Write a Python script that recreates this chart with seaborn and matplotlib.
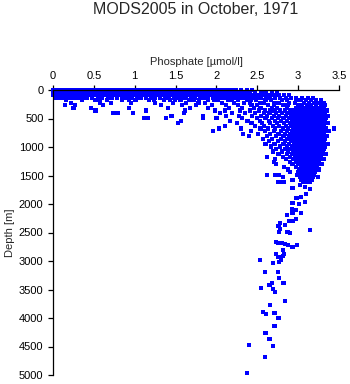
import numpy as np
import pandas as pd
import matplotlib
matplotlib.use("Agg")
import matplotlib.pyplot as plt
import seaborn as sns

# Phosphate (umol/l) readings grouped by sampling depth (m)
upper_depths = [0, 45, 90, 135, 180, 225, 270, 315]
upper_phosphate = [
    [0.00, 0.03, 0.07, 0.10, 0.14, 0.17, 0.21, 0.24, 0.28, 0.31, 0.35, 0.38, 0.42, 0.45, 0.49, 0.52,
     0.56, 0.59, 0.63, 0.66, 0.70, 0.73, 0.77, 0.80, 0.84, 0.87, 0.91, 0.94, 0.98, 1.01, 1.05, 1.08,
     1.12, 1.15, 1.19, 1.22, 1.26, 1.29, 1.33, 1.36, 1.40, 1.43, 1.47, 1.50, 1.54, 1.57, 1.61, 1.64,
     1.68, 1.71, 1.75, 1.78, 1.82, 1.85, 1.89, 1.92, 1.96, 1.99, 2.03, 2.06, 2.10, 2.13, 2.17, 2.20,
     2.24, 2.30, 2.37, 2.44],
    [0.00, 0.04, 0.07, 0.11, 0.14, 0.18, 0.22, 0.25, 0.29, 0.32, 0.36, 0.40, 0.43, 0.47, 0.50, 0.54,
     0.58, 0.61, 0.65, 0.68, 0.72, 0.76, 0.79, 0.83, 0.86, 0.90, 0.94, 0.97, 1.01, 1.04, 1.08, 1.12,
     1.15, 1.19, 1.22, 1.26, 1.30, 1.33, 1.37, 1.40, 1.44, 1.48, 1.51, 1.55, 1.58, 1.62, 1.66, 1.69,
     1.73, 1.76, 1.80, 1.84, 1.87, 1.91, 1.94, 1.98, 2.02, 2.05, 2.09, 2.12, 2.16, 2.20, 2.23, 2.27,
     2.31, 2.36, 2.41, 2.47, 2.55, 2.60, 2.68, 2.74],
    [0.00, 0.03, 0.06, 0.10, 0.13, 0.16, 0.20, 0.23, 0.27, 0.30, 0.34, 0.37, 0.41, 0.45, 0.48, 0.52,
     0.55, 0.59, 0.62, 0.66, 0.70, 0.73, 0.77, 0.80, 0.84, 0.87, 0.91, 0.95, 0.98, 1.02, 1.05, 1.09,
     1.13, 1.16, 1.20, 1.23, 1.27, 1.31, 1.34, 1.38, 1.41, 1.45, 1.49, 1.52, 1.56, 1.60, 1.63, 1.67,
     1.70, 1.74, 1.78, 1.81, 1.85, 1.89, 1.92, 1.96, 1.99, 2.03, 2.07, 2.10, 2.14, 2.18, 2.21, 2.25,
     2.29, 2.32, 2.36, 2.40, 2.44, 2.48, 2.52, 2.57, 2.62, 2.67, 2.72, 2.77, 2.83, 2.89],
    [0.02, 0.08, 0.13, 0.19, 0.25, 0.31, 0.36, 0.42, 0.48, 0.55, 0.60, 0.67, 0.72, 0.78, 0.85, 0.90,
     0.96, 1.03, 1.08, 1.14, 1.20, 1.25, 1.31, 1.37, 1.42, 1.48, 1.53, 1.58, 1.63, 1.69, 1.74, 1.80,
     1.85, 1.90, 1.96, 2.01, 2.06, 2.11, 2.17, 2.22, 2.27, 2.33, 2.38, 2.43, 2.49, 2.55, 2.61, 2.66,
     2.72, 2.78, 2.85, 2.91, 2.97, 3.05, 3.12, 3.18],
    [0.16, 0.35, 0.52, 0.58, 0.66, 0.84, 0.93, 1.01, 1.17, 1.24, 1.36, 1.43, 1.49, 1.56, 1.67, 1.72,
     1.79, 1.90, 1.97, 2.02, 2.14, 2.19, 2.26, 2.37, 2.42, 2.48, 2.60, 2.67, 2.80, 2.86, 2.98, 3.04,
     3.10, 3.16, 3.22, 3.28],
    [0.22, 0.58, 0.71, 0.95, 1.25, 1.47, 1.63, 1.78, 1.86, 2.07, 2.21, 2.34, 2.41, 2.53, 2.58, 2.71,
     2.77, 2.89, 2.96, 3.07, 3.13, 3.19, 3.25, 3.31],
    [0.15, 0.27, 0.61, 1.32, 1.58, 1.75, 1.95, 2.12, 2.26, 2.43, 2.50, 2.63, 2.70, 2.82, 2.88, 3.00,
     3.05, 3.11, 3.16, 3.22, 3.28, 3.33],
    [0.25, 0.46, 0.93, 1.41, 1.68, 1.90, 2.15, 2.31, 2.46, 2.54, 2.68, 2.74, 2.86, 2.97, 3.02, 3.07,
     3.12, 3.17, 3.22, 3.27, 3.32],
]

core_depths = [360, 405, 450, 495, 540, 585, 630, 675, 720, 765, 810, 855, 900, 945, 990,
               1035, 1080, 1125, 1170, 1215, 1260, 1305, 1350, 1395, 1440, 1485, 1530, 1575, 1610]
core_phosphate = [
    [0.52, 1.14, 1.62, 1.98, 2.10, 2.29, 2.41, 2.52, 2.59, 2.66, 2.71, 2.78, 2.84, 2.90, 2.95, 2.99,
     3.03, 3.07, 3.11, 3.15, 3.19, 3.23, 3.27, 3.31, 3.35],
    [0.74, 0.80, 0.98, 1.60, 2.04, 2.19, 2.35, 2.47, 2.58, 2.65, 2.73, 2.80, 2.87, 2.93, 2.97, 3.01,
     3.05, 3.09, 3.13, 3.17, 3.21, 3.25, 3.29, 3.33],
    [1.45, 1.84, 2.12, 2.28, 2.44, 2.55, 2.62, 2.70, 2.77, 2.85, 2.91, 2.96, 3.00, 3.04, 3.08, 3.12,
     3.16, 3.20, 3.24, 3.28, 3.32, 3.37],
    [1.11, 1.16, 1.38, 1.84, 2.00, 2.31, 2.50, 2.60, 2.68, 2.75, 2.82, 2.89, 2.94, 2.98, 3.02, 3.06,
     3.10, 3.14, 3.18, 3.22, 3.26, 3.30, 3.34],
    [1.57, 2.17, 2.38, 2.53, 2.64, 2.72, 2.79, 2.86, 2.92, 2.97, 3.01, 3.05, 3.09, 3.13, 3.17, 3.21,
     3.25, 3.29, 3.33],
    [1.53, 2.25, 2.43, 2.56, 2.66, 2.74, 2.83, 2.90, 2.95, 2.99, 3.03, 3.07, 3.11, 3.15, 3.19, 3.23,
     3.27, 3.31, 3.36],
    [2.10, 2.47, 2.58, 2.69, 2.77, 2.85, 2.91, 2.96, 3.00, 3.04, 3.08, 3.12, 3.16, 3.20, 3.24, 3.28,
     3.32],
    [2.03, 2.30, 2.54, 2.63, 2.72, 2.81, 2.88, 2.94, 2.98, 3.02, 3.06, 3.10, 3.14, 3.18, 3.22, 3.26,
     3.30, 3.34, 3.44],
    [1.96, 2.42, 2.59, 2.70, 2.79, 2.86, 2.93, 2.97, 3.01, 3.05, 3.09, 3.13, 3.17, 3.21, 3.25, 3.29,
     3.33, 3.38],
    [2.33, 2.51, 2.66, 2.76, 2.84, 2.90, 2.95, 2.99, 3.03, 3.07, 3.11, 3.15, 3.19, 3.23, 3.27, 3.31],
    [2.40, 2.62, 2.73, 2.82, 2.89, 2.94, 2.98, 3.02, 3.06, 3.10, 3.14, 3.18, 3.22, 3.26, 3.30, 3.35],
    [2.57, 2.68, 2.79, 2.87, 2.93, 2.97, 3.01, 3.05, 3.09, 3.13, 3.17, 3.21, 3.25, 3.29, 3.33],
    [2.64, 2.75, 2.84, 2.91, 2.96, 3.00, 3.04, 3.08, 3.12, 3.16, 3.20, 3.24, 3.28, 3.32],
    [2.60, 2.71, 2.82, 2.89, 2.95, 2.99, 3.03, 3.07, 3.11, 3.15, 3.19, 3.23, 3.27, 3.31, 3.36],
    [2.67, 2.78, 2.86, 2.92, 2.97, 3.01, 3.05, 3.09, 3.13, 3.17, 3.21, 3.25, 3.29, 3.33],
    [2.73, 2.84, 2.91, 2.96, 3.00, 3.04, 3.08, 3.12, 3.16, 3.20, 3.24, 3.28, 3.32],
    [2.69, 2.80, 2.88, 2.94, 2.98, 3.02, 3.06, 3.10, 3.14, 3.18, 3.22, 3.26, 3.30],
    [2.76, 2.86, 2.93, 2.97, 3.01, 3.05, 3.09, 3.13, 3.17, 3.21, 3.25, 3.29, 3.34],
    [2.62, 2.81, 2.90, 2.96, 3.00, 3.04, 3.08, 3.12, 3.16, 3.20, 3.24, 3.28],
    [2.72, 2.85, 2.94, 2.99, 3.03, 3.07, 3.11, 3.15, 3.19, 3.23, 3.27, 3.31],
    [2.70, 2.90, 2.98, 3.02, 3.06, 3.10, 3.14, 3.18, 3.22, 3.26],
    [2.73, 2.93, 3.00, 3.04, 3.08, 3.12, 3.16, 3.20, 3.24, 3.29],
    [2.83, 2.97, 3.03, 3.07, 3.11, 3.15, 3.19, 3.23],
    [2.88, 3.01, 3.05, 3.09, 3.13, 3.17, 3.21, 3.26],
    [2.90, 3.00, 3.04, 3.08, 3.12, 3.16, 3.20],
    [2.62, 2.72, 2.77, 2.99, 3.03, 3.07, 3.11, 3.15, 3.19],
    [2.81, 3.02, 3.06, 3.10, 3.14, 3.18, 3.24],
    [2.93, 3.04, 3.08, 3.12, 3.17],
    [2.76, 2.82, 3.06, 3.11, 3.15],
]

# Individual deep-water samples below the phosphate maximum
deep_depth = [1667, 1707, 1713, 1737, 1825, 1883, 1900, 1970, 1988, 2000, 2094, 2105, 2164, 2164,
              2193, 2269, 2292, 2298, 2339, 2368, 2380, 2439, 2456, 2485, 2485, 2515, 2661, 2690,
              2690, 2700, 2720, 2760, 2720, 2807, 2877, 2877, 2912, 2936, 2982, 3012, 2982, 3041,
              3199, 3199, 3304, 3392, 3421, 3392, 3480, 3497, 3544, 3708, 3778, 3889, 3936, 3918,
              4006, 4140, 4257, 4374, 4480, 4491, 4684, 4971]
deep_phosphate = [3.02, 3.08, 2.93, 3.15, 3.10, 3.04, 2.98, 3.08, 2.93, 3.01, 2.92, 2.97, 3.03, 2.93,
                  2.86, 2.97, 2.89, 2.94, 2.78, 2.84, 2.76, 2.78, 3.15, 2.77, 2.87, 2.90, 2.73, 2.76,
                  2.80, 2.84, 2.88, 2.93, 2.99, 2.81, 2.73, 2.83, 2.81, 2.76, 2.79, 2.77, 2.53, 2.69,
                  2.59, 2.75, 2.77, 2.82, 2.65, 2.68, 2.55, 2.69, 2.72, 2.84, 2.66, 2.57, 2.61, 2.71,
                  2.76, 2.71, 2.60, 2.65, 2.40, 2.69, 2.59, 2.37]

x_ticks = [0, 0.5, 1, 1.5, 2, 2.5, 3, 3.5]
x_tick_labels = ["0", "0.5", "1", "1.5", "2", "2.5", "3", "3.5"]
y_ticks = [0, 500, 1000, 1500, 2000, 2500, 3000, 3500, 4000, 4500, 5000]

# Flatten everything into one long table
rows = []
for d, ps in zip(upper_depths + core_depths, upper_phosphate + core_phosphate):
    rows.extend((p, d) for p in ps)
rows.extend(zip(deep_phosphate, deep_depth))
df = pd.DataFrame(rows, columns=["phosphate", "depth"])

sns.set_style("ticks")
plt.rcParams["font.family"] = ["Liberation Sans", "DejaVu Sans"]

fig = plt.figure(figsize=(3.5, 3.84), dpi=100)
ax = fig.add_axes([53 / 350, 1 - 375 / 384, 286 / 350, 285 / 384])

sns.scatterplot(data=df, x="phosphate", y="depth", ax=ax, marker="s", s=9,
                color="#0000ff", linewidth=0, edgecolor="none", clip_on=False,
                antialiased=False)

ax.set_xlim(0, 3.5)
ax.set_ylim(5000, 0)
ax.xaxis.set_label_position("top")
ax.xaxis.tick_top()
ax.set_xticks(x_ticks)
ax.set_xticklabels(x_tick_labels)
ax.set_yticks(y_ticks)
ax.set_yticklabels([str(v) for v in y_ticks])
ax.tick_params(axis="both", direction="out", length=3.6, width=0.9, labelsize=8,
               pad=3.2, colors="black")
ax.set_xlabel("Phosphate [\u00b5mol/l]", fontsize=8, labelpad=4)
ax.set_ylabel("Depth [m]", fontsize=8, labelpad=3)

for side in ("right", "bottom"):
    ax.spines[side].set_visible(False)
for side in ("left", "top"):
    ax.spines[side].set_linewidth(0.9)
    ax.spines[side].set_color("black")

fig.text(0.5 * (53 + 339) / 350, 1 - 13.5 / 384, "MODS2005 in October, 1971",
         ha="center", va="baseline", fontsize=11.5)

fig.savefig("out.png", dpi=100)
